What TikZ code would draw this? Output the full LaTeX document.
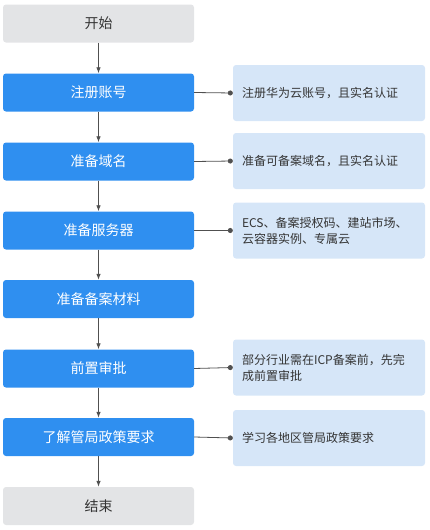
\documentclass[tikz,border=0pt]{standalone}
\usepackage{fontspec}
\newfontfamily\cjk{Noto Sans CJK SC}
\usetikzlibrary{positioning,arrows.meta}
\definecolor{stepblue}{RGB}{47,143,240}
\definecolor{endgray}{RGB}{227,228,230}
\definecolor{noteblue}{RGB}{214,230,248}
\definecolor{linegray}{RGB}{80,80,80}
\definecolor{textgray}{RGB}{51,51,51}
\tikzset{
  stepbox/.style={fill=stepblue, text=white, rounded corners=3pt, minimum width=191pt, minimum height=38pt, inner sep=0pt, font=\cjk\fontsize{14}{16}\selectfont},
  endbox/.style={stepbox, fill=endgray, text=textgray},
  notebox/.style={fill=noteblue, rounded corners=3pt, minimum height=56pt, text width=174pt, inner xsep=9pt, inner ysep=0pt, align=left, text=textgray, font=\cjk\fontsize{12}{16}\selectfont},
  flow/.style={-{Latex[length=6pt,width=4.5pt]}, linegray, line width=0.8pt},
  link/.style={-{Circle[length=5pt]}, linegray, line width=0.8pt}
}

\begin{document}
\begin{tikzpicture}[x=1pt,y=-1pt]
  \useasboundingbox (0,0) rectangle (430,530);
  % main steps
  \node[endbox]  (start) at (98.5, 23.5) {开始};
  \node[stepbox] (reg)   at (98.5, 92.5) {注册账号};
  \node[stepbox] (dom)   at (98.5,161.5) {准备域名};
  \node[stepbox] (srv)   at (98.5,230.5) {准备服务器};
  \node[stepbox] (mat)   at (98.5,299.0) {准备备案材料};
  \node[stepbox] (pre)   at (98.5,368.5) {前置审批};
  \node[stepbox] (pol)   at (98.5,437.0) {了解管局政策要求};
  \node[endbox]  (stop)  at (98.5,506.0) {结束};
  % notes
  \node[notebox] (nreg) at (329, 93.0) {注册华为云账号，且实名认证};
  \node[notebox] (ndom) at (329,161.0) {准备可备案域名，且实名认证};
  \node[notebox] (nsrv) at (329,230.5) {ECS、备案授权码、建站市场、\\云容器实例、专属云};
  \node[notebox] (npre) at (329,367.5) {部分行业需在ICP备案前，先完\\成前置审批};
  \node[notebox] (npol) at (329,438.0) {学习各地区管局政策要求};
  % arrows
  \draw[flow] (start) -- (reg);
  \draw[flow] (reg) -- (dom);
  \draw[flow] (dom) -- (srv);
  \draw[flow] (srv) -- (mat);
  \draw[flow] (mat) -- (pre);
  \draw[flow] (pre) -- (pol);
  \draw[flow] (pol) -- (stop);
  % links to notes
  \draw[link] (reg.east) -- (nreg.west);
  \draw[link] (dom.east) -- (ndom.west);
  \draw[link] (srv.east) -- (nsrv.west);
  \draw[link] (pre.east) -- (npre.west);
  \draw[link] (pol.east) -- (npol.west);
\end{tikzpicture}
\end{document}
